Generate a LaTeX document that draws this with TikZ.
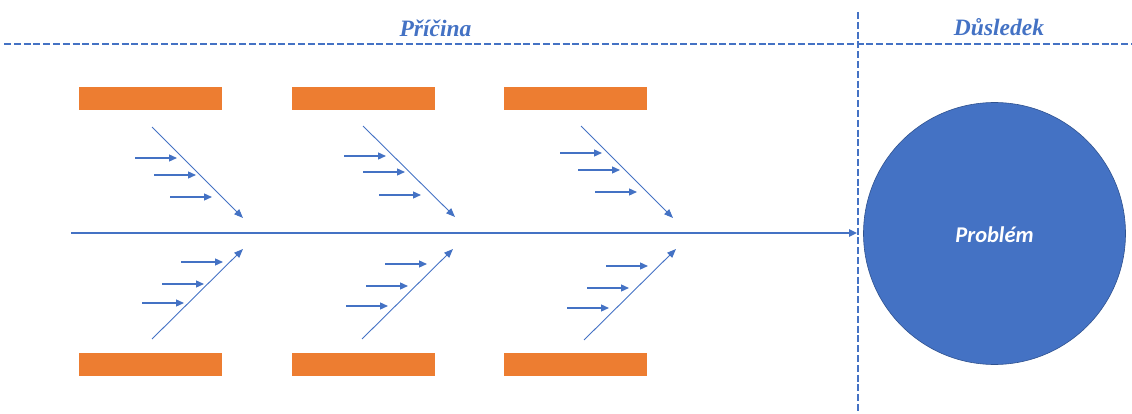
\documentclass[tikz,border=0pt]{standalone}
\usepackage{fontspec}
\setmainfont{Liberation Serif}
\newfontfamily\calibri{Carlito}
\usetikzlibrary{arrows.meta}
\definecolor{fbblue}{HTML}{4472C4}
\definecolor{fborange}{HTML}{ED7D31}
\definecolor{fbedge}{HTML}{2F528F}

\begin{document}
\begin{tikzpicture}[x=1pt,y=-1pt,
  cause/.style={fill=fborange, draw=none, minimum width=143pt, minimum height=23pt, inner sep=0pt},
  bone/.style={draw=fbblue, line width=0.9pt, -{Triangle[length=9pt,width=7pt]}},
  twig/.style={draw=fbblue, line width=1.3pt, -{Triangle[length=8pt,width=7pt]}},
  spine/.style={draw=fbblue, line width=2pt, -{Triangle[length=8pt,width=7pt]}},
  divider/.style={draw=fbblue, line width=2.8pt, dash pattern=on 7pt off 2.8pt},
  header/.style={text=fbblue, font=\fontsize{23.5}{26}\selectfont\bfseries\itshape, anchor=base, inner sep=0pt},
  problemnode/.style={circle, fill=fbblue, draw=fbedge, line width=0.6pt, minimum size=262pt, inner sep=0pt,
    text=white, font=\calibri\fontsize{22.5}{25}\selectfont\bfseries\itshape}]
\useasboundingbox (0,0) rectangle (1132,414);

% section dividers and headings
\coordinate (hl) at (4,44);
\coordinate (hr) at (1132,44);
\coordinate (vt) at (858,12);
\coordinate (vb) at (858,414);
\draw[divider] (hl) -- (hr);
\draw[divider] (vt) -- (vb);
\node[header] (cause) at (435.5,37) {Příčina};
\node[header] (effect) at (999,36) {Důsledek};

% the effect
\node[problemnode] (problem) at (994.5,233.5) {};
\node[text=white, font=\calibri\fontsize{22.5}{25}\selectfont\bfseries\itshape, anchor=base, inner sep=0pt]
  (problemlabel) at (994.5,242) {Problém};

% main spine
\coordinate (tail) at (71,233);
\draw[spine, shorten >=6pt] (tail) -- (tail -| problem.west);

% category boxes
\foreach \g/\x in {1/150.5, 2/363.5, 3/575.5} {
  \node[cause] (top\g) at (\x,99) {};
  \node[cause] (bot\g) at (\x,364) {};
}

% upper bones with their sub-causes
\foreach \g/\s/\e/\p/\q/\r in {
  1/{152,127}/{243,218}/{135,158}/{154,175}/{170,197},
  2/{363,126}/{455,217}/{344,156}/{363,172}/{379,195},
  3/{581,126}/{673,218}/{560,153}/{578,170}/{595,192}} {
  \coordinate (ts\g) at (\s);
  \coordinate (te\g) at (\e);
  \draw[bone] (ts\g) -- (te\g);
  \coordinate (ta\g-1) at (\p);
  \coordinate (ta\g-2) at (\q);
  \coordinate (ta\g-3) at (\r);
  \foreach \k in {1,2,3} {
    \coordinate (tb\g-\k) at ([xshift=42pt]ta\g-\k);
    \draw[twig] (ta\g-\k) -- (tb\g-\k);
  }
}

% lower bones with their sub-causes
\foreach \g/\s/\e/\p/\q/\r in {
  1/{152,339}/{243,249}/{181,262}/{162,284}/{142,303},
  2/{362,339}/{453,249}/{385,264}/{366,286}/{346,306},
  3/{584,340}/{676,249}/{606,266}/{587,288}/{567,308}} {
  \coordinate (bs\g) at (\s);
  \coordinate (be\g) at (\e);
  \draw[bone] (bs\g) -- (be\g);
  \coordinate (ba\g-1) at (\p);
  \coordinate (ba\g-2) at (\q);
  \coordinate (ba\g-3) at (\r);
  \foreach \k in {1,2,3} {
    \coordinate (bb\g-\k) at ([xshift=42pt]ba\g-\k);
    \draw[twig] (ba\g-\k) -- (bb\g-\k);
  }
}
\end{tikzpicture}
\end{document}
